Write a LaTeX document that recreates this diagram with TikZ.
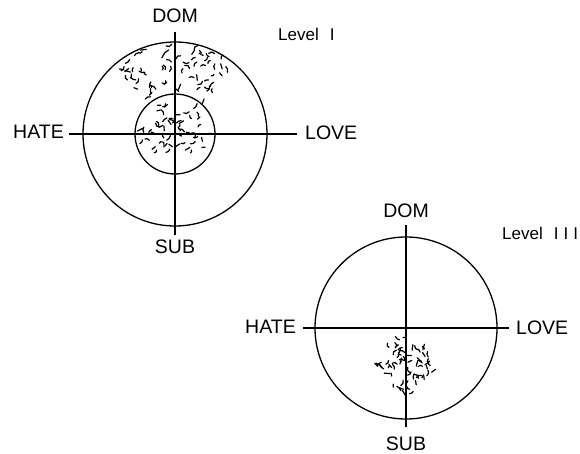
\documentclass[tikz,border=0pt]{standalone}
\usepackage{fontspec}
\setmainfont{Liberation Sans}
\begin{document}
\begin{tikzpicture}[x=1pt,y=-1pt,
  circ/.style={line width=1.3pt},
  axis/.style={line width=1.3pt},
  lab/.style={font=\fontsize{19.5}{22}\selectfont, inner sep=0pt},
  lvl/.style={font=\fontsize{17}{19}\selectfont, inner sep=0pt, anchor=west},
  mk/.style={line width=1.2pt, line cap=round}]
\useasboundingbox (0,0) rectangle (580,454);
\pgfmathsetseed{12}
% ---------- Level I ----------
\coordinate (c1) at (175,134);
\coordinate (c1t) at (175,32);
\coordinate (c1b) at (175,235);
\coordinate (c1l) at (69,134);
\coordinate (c1r) at (297,134);
\draw[circ] (c1) circle[radius=92];
\draw[circ] (c1) circle[radius=40];
\draw[axis] (c1t) -- (c1b);
\draw[axis] (c1l) -- (c1r);
\node[lab] (dom1) at (175,16) {DOM};
\node[lab] (sub1) at (175,247) {SUB};
\node[lab, anchor=east] (hate1) at (64,132) {HATE};
\node[lab, anchor=west] (love1) at (305,133) {LOVE};
\node[lvl] (lev1) at (278,34) {Level\hspace{11pt}I};
% stipple: wedge
\foreach \i in {1,...,65}{
  \pgfmathsetmacro\ang{47+86*rnd}
  \pgfmathsetmacro\rad{sqrt(1764+rnd*6336)}
  \pgfmathsetmacro\px{175+\rad*cos(\ang)}
  \pgfmathsetmacro\py{134-\rad*sin(\ang)}
  \pgfmathsetmacro\dir{360*rnd}
  \pgfmathsetmacro\len{3+3*rnd}
  \pgfmathsetmacro\bd{-60+120*rnd}
  \draw[mk] (\px,\py) to[bend left=\bd] ++(\dir:\len);
}
% stipple: inner circle
\foreach \i in {1,...,70}{
  \pgfmathsetmacro\ddx{-35+70*rnd}
  \pgfmathsetmacro\ddy{-35+53*rnd}
  \pgfmathtruncatemacro\ok{((\ddx*\ddx+\ddy*\ddy)<1156) ? 1 : 0}
  \pgfmathsetmacro\dir{360*rnd}
  \pgfmathsetmacro\len{3+3*rnd}
  \pgfmathsetmacro\bd{-60+120*rnd}
  \ifnum\ok=1
    \draw[mk] ({175+\ddx},{134+\ddy}) to[bend left=\bd] ++(\dir:\len);
  \fi
}
% ---------- Level III ----------
\coordinate (c2) at (406,328);
\coordinate (c2t) at (406,225);
\coordinate (c2b) at (406,427);
\coordinate (c2l) at (303,328);
\coordinate (c2r) at (509,328);
\draw[circ] (c2) circle[radius=91];
\draw[axis] (c2t) -- (c2b);
\draw[axis] (c2l) -- (c2r);
\node[lab] (dom2) at (406,211) {DOM};
\node[lab] (sub2) at (406,444) {SUB};
\node[lab, anchor=east] (hate2) at (296,327) {HATE};
\node[lab, anchor=west] (love2) at (516,328) {LOVE};
\node[lvl] (lev2) at (502,233) {Level\hspace{11pt}I\hspace{5pt}I\hspace{5pt}I};
% stipple: diamond
\foreach \i in {1,...,65}{
  \pgfmathsetmacro\uu{2*rnd-1}
  \pgfmathsetmacro\vv{2*rnd-1}
  \pgfmathsetmacro\px{406+17*(\uu+\vv)}
  \pgfmathsetmacro\py{364+17*(\uu-\vv)}
  \pgfmathsetmacro\dir{360*rnd}
  \pgfmathsetmacro\len{3+3*rnd}
  \pgfmathsetmacro\bd{-60+120*rnd}
  \draw[mk] (\px,\py) to[bend left=\bd] ++(\dir:\len);
}
\end{tikzpicture}
\end{document}
